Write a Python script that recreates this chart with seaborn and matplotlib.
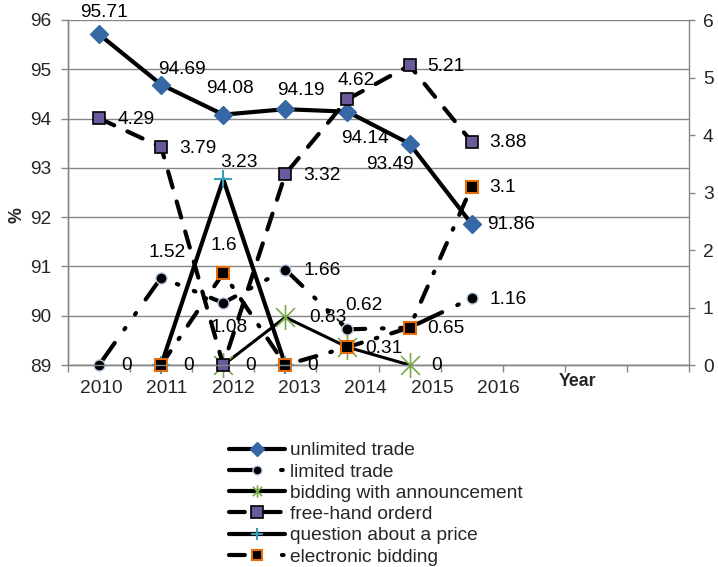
import numpy as np
import pandas as pd
import matplotlib
matplotlib.use("Agg")
import matplotlib.pyplot as plt
from matplotlib.path import Path
from matplotlib.lines import Line2D
import seaborn as sns

nan = np.nan

# ---------------- data ----------------
years = ["2010", "2011", "2012", "2013", "2014", "2015", "2016"]
unlimited_trade = [95.71, 94.69, 94.08, 94.19, 94.14, 93.49, 91.86]
limited_trade = [0, 1.52, 1.08, 1.66, 0.62, 0.65, 1.16]
bidding_with_announcement = [nan, nan, 0, 0.83, 0.31, 0, nan]
free_hand_orderd = [4.29, 3.79, 0, 3.32, 4.62, 5.21, 3.88]
question_about_a_price = [nan, 0, 3.23, 0, nan, nan, nan]
electronic_bidding = [nan, 0, 1.6, 0, 0.31, 0.65, 3.1]

left_ticks = [89, 90, 91, 92, 93, 94, 95, 96]
right_ticks = [0, 1, 2, 3, 4, 5, 6]
n_categories = 10  # axis has 10 category slots, only 7 labelled

# ---------------- style ----------------
sns.set_style("white")
plt.rcParams["font.family"] = ["Liberation Sans", "DejaVu Sans"]
FS = 13.8
GRAY = "#868686"
PX = 0.72  # points per pixel at dpi 100

# Excel-like asterisk: vertical bar plus an X
star = Path([(0, -1), (0, 1), (-0.75, -0.75), (0.75, 0.75), (-0.75, 0.75), (0.75, -0.75)],
            [Path.MOVETO, Path.LINETO, Path.MOVETO, Path.LINETO, Path.MOVETO, Path.LINETO])

fig = plt.figure(figsize=(7.18, 5.67), dpi=100)
ax = fig.add_axes([68 / 718, 1 - 365 / 567, (689 - 68) / 718, (365 - 20) / 567])
ax2 = ax.twinx()

x = np.arange(len(years))

series = [
    dict(name="unlimited trade", data=unlimited_trade, ax=ax, marker="D", ms=9, lms=7,
         mfc="#3568A4", mec="#3568A4", mew=1, lw=3, ls="-", lls="-"),
    dict(name="limited trade", data=limited_trade, ax=ax2, marker="o", ms=8, lms=6.5,
         mfc="black", mec="#B9CDE5", mew=1, lw=3, ls=(0, (6.5, 4, 0.4, 4, 0.4, 4)),
         lls=(0, (6.2, 6.3, 0.4, 6))),
    dict(name="bidding with announcement", data=bidding_with_announcement, ax=ax2,
         marker=star, ms=18, lms=9, mfc="#7AAA48", mec="#7AAA48", mew=1.2, lw=2.2,
         ls="-", lls="-"),
    dict(name="free-hand orderd", data=free_hand_orderd, ax=ax2, marker="s", ms=9, lms=8,
         mfc="#6A5A9C", mec="black", mew=1.2, lw=3, ls=(0, (4, 3.5)),
         lls=(0, (3.8, 4.8, 3.8, 5))),
    dict(name="question about a price", data=question_about_a_price, ax=ax2, marker="+",
         ms=13, lms=9, mfc="#3A9DB8", mec="#3A9DB8", mew=1.5, lw=3, ls="-", lls="-"),
    dict(name="electronic bidding", data=electronic_bidding, ax=ax2, marker="s", ms=9,
         lms=7.5, mfc="black", mec="#E46C0A", mew=1.5, lw=3,
         ls=(0, (4, 3.5, 0.4, 3.5)), lls=(0, (3.8, 8.9, 0.4, 5))),
]

# label offsets in pixels (dx, dy, ha); default is to the right of the point
label_pos = {
    ("unlimited trade", 0): (5, -22, "center"),
    ("unlimited trade", 1): (21, -15, "center"),
    ("unlimited trade", 2): (7, -26, "center"),
    ("unlimited trade", 3): (16, -19, "center"),
    ("unlimited trade", 4): (17, 27, "center"),
    ("unlimited trade", 5): (-20, 21, "center"),
    ("unlimited trade", 6): (15, 0, "left"),
    ("free-hand orderd", 4): (9, -19, "center"),
    ("question about a price", 2): (16, -17, "center"),
    ("limited trade", 1): (6, -25, "center"),
    ("limited trade", 2): (6, 25, "center"),
    ("limited trade", 4): (16, -24, "center"),
    ("electronic bidding", 2): (1, -28, "center"),
    ("bidding with announcement", 3): (24, 0, "left"),
}

drawn = set()
handles = []
for s in series:
    df = pd.DataFrame({"x": x, "y": s["data"]}).dropna()
    target = s["ax"]
    sns.lineplot(data=df, x="x", y="y", ax=target, color="black", linewidth=s["lw"],
                 linestyle=s["ls"], marker=s["marker"], markersize=s["ms"],
                 markerfacecolor=s["mfc"], markeredgecolor=s["mec"],
                 markeredgewidth=s["mew"], errorbar=None, legend=False,
                 clip_on=False, dash_capstyle="round")
    handles.append(Line2D([], [], color="black", linewidth=3, linestyle=s["lls"],
                          marker=s["marker"], markersize=s["lms"],
                          markerfacecolor=s["mfc"], markeredgecolor=s["mec"],
                          markeredgewidth=s["mew"], dash_capstyle="round"))
    for xi, v in zip(df["x"], df["y"]):
        key = (s["name"], int(xi))
        if key in label_pos:
            dx, dy, ha = label_pos[key]
        else:
            dx, dy, ha = (22 if v == 0 else 18), 1, "left"
        dkey = (id(target), int(xi), round(float(v), 4), dx, dy)
        if dkey in drawn:
            continue
        drawn.add(dkey)
        target.annotate(f"{v:g}", (xi, v), xytext=(dx * PX, -dy * PX),
                        textcoords="offset points", ha=ha, va="center",
                        fontsize=FS, color="black", annotation_clip=False, zorder=10)

# ---------------- axes ----------------
ax.set_xlim(-0.5, n_categories - 0.5)
ax.set_ylim(left_ticks[0], left_ticks[-1])
ax2.set_ylim(right_ticks[0], right_ticks[-1])

ax.set_xticks(np.arange(n_categories + 1) - 0.5)
ax.set_xticklabels([])
label_x = [0.03 + 1.066 * i for i in range(len(years))]
ax.set_xticks(label_x, minor=True)
ax.set_xticklabels(years, minor=True)
ax.tick_params(axis="x", which="major", direction="out", length=5, width=1, color=GRAY, bottom=True)
ax.tick_params(axis="x", which="minor", length=0, pad=11, labelsize=FS, bottom=True)

ax.set_yticks(left_ticks)
ax.tick_params(axis="y", direction="out", length=5, width=1, color=GRAY, pad=7,
               labelsize=FS, left=True)
ax2.set_yticks(right_ticks)
ax2.tick_params(axis="y", direction="out", length=4.5, width=1, color=GRAY, pad=5.5,
                labelsize=FS, right=True)

ax.grid(axis="y", color=GRAY, linewidth=1.0)
ax.grid(axis="x", visible=False)
ax2.grid(False)
for a in (ax, ax2):
    a.set_xlabel("")
    a.set_ylabel("")
    a.spines["top"].set_visible(False)
    for side in ("left", "right", "bottom"):
        a.spines[side].set_color(GRAY)
        a.spines[side].set_linewidth(1.0)
ax.spines["right"].set_visible(False)
ax.set_zorder(1)
ax2.set_zorder(2)
ax.patch.set_visible(False)
ax2.patch.set_visible(False)

fig.text(17 / 718, 1 - 215 / 567, "%", rotation=90, fontsize=12.8, fontweight="bold",
         ha="center", va="center")
fig.text(578 / 718, 1 - 381 / 567, "Year", fontsize=12.8, fontweight="bold",
         ha="center", va="center")

fig.legend(handles, [s["name"] for s in series], loc="upper left",
           bbox_to_anchor=(229 / 718, 1 - 442 / 567), frameon=False, fontsize=FS,
           handlelength=2.9, handletextpad=0.3, labelspacing=0.2, borderpad=0,
           borderaxespad=0, numpoints=1)

fig.savefig("out.png", dpi=100)
